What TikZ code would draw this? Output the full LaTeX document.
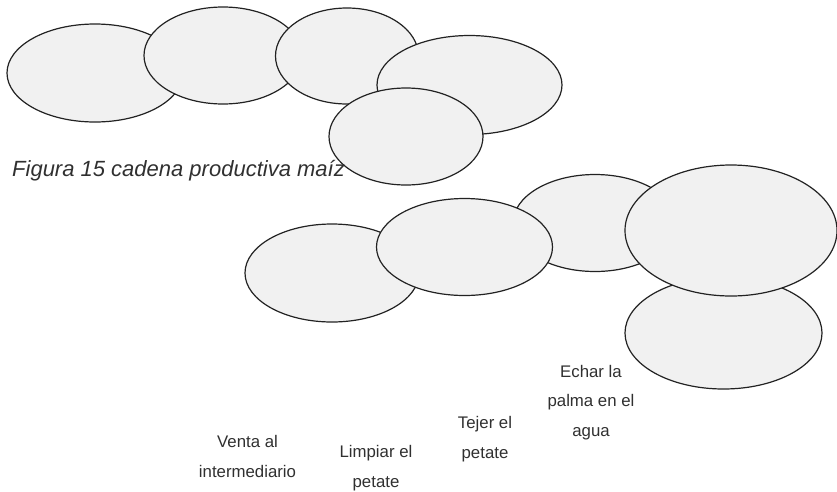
\documentclass[tikz,border=0pt]{standalone}
\usepackage{fontspec}
\setmainfont{Liberation Sans}
\usetikzlibrary{shapes.geometric}
\definecolor{burbuja}{HTML}{F1F1F1}
\definecolor{trazo}{HTML}{222222}
\definecolor{letra}{HTML}{303030}
\tikzset{
	burbuja/.style={ellipse, draw=trazo, fill=burbuja, line width=1.2pt, inner sep=0pt},
	paso/.style={align=center, text=letra, inner sep=0pt, anchor=base,
		font=\fontsize{16.8}{29.5}\selectfont}
}

\begin{document}
\begin{tikzpicture}[x=1pt, y=-1pt]
	\useasboundingbox (0,0) rectangle (837,491);
	\foreach \n/\x/\y/\w/\h in {maiz1/95/73/176/98, maiz2/223/55.5/158/97, maiz3/347/56/143/96,
		maiz4/469.5/85/185/99, maiz5/406/136.5/154/97}
	\node[burbuja, minimum width=\w pt, minimum height=\h pt] (\n) at (\x,\y) {};

	\node[anchor=base west, inner sep=0pt, text=letra, font=\fontsize{22}{26}\selectfont\itshape]
	(fig) at (12,176.5) {Figura 15 cadena productiva maíz};

	\foreach \n/\x/\y/\w/\h in {palma1/332/273/174/98, palma3/595/223/164/97, palma2/464.5/247/176/97,
		palma5/723.5/333/197/112, palma4/731/230.5/212/131}
	\node[burbuja, minimum width=\w pt, minimum height=\h pt] (\n) at (\x,\y) {};

	\node[paso] (venta) at (247.5,477) {Venta al\\intermediario};
	\node[paso] (limpiar) at (376,487) {Limpiar el\\petate};
	\node[paso] (tejer) at (485,458) {Tejer el\\petate};
	\node[paso] (echar) at (591,436) {Echar la\\palma en el\\agua};
\end{tikzpicture}
\end{document}
